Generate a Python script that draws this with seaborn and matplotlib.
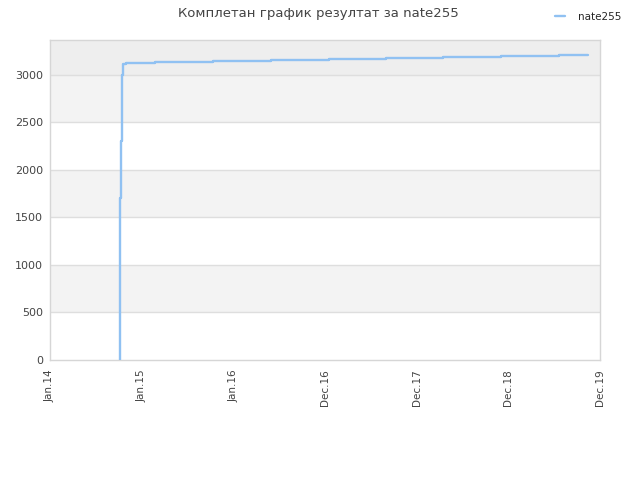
import matplotlib
matplotlib.use("Agg")
import matplotlib.pyplot as plt
import seaborn as sns
import numpy as np
import pandas as pd

# data (x = days since start of the axis)
days = [272, 272, 276, 281, 284, 287, 297, 410, 637, 864, 1091, 1313, 1536, 1763, 1990, 2103]
score = [0, 1705, 2305, 3000, 3100, 3115, 3129, 3140, 3150, 3161, 3171, 3182, 3193, 3204, 3214, 3214]
tick_labels = ["Jan.14", "Jan.15", "Jan.16", "Dec.16", "Dec.17", "Dec.18", "Dec.19"]
y_ticks = [0, 500, 1000, 1500, 2000, 2500, 3000]
player = "nate255"

df = pd.DataFrame({"day": days, "score": score})

sns.set_style("white")
plt.rcParams['font.family'] = ['DejaVu Sans']

fig = plt.figure(figsize=(6.4, 4.8), dpi=100)
ax = fig.add_axes([50 / 640, 120 / 480, 550 / 640, 320 / 480])

x_max = 2150
y_max = 3368

# alternating bands
for lo in [500, 1500, 2500]:
    ax.axhspan(lo, lo + 500, color="#f3f3f3", zorder=0, lw=0)
ax.axhspan(3000, y_max, color="#eeeeee", zorder=0, lw=0)
for yt in y_ticks[1:]:
    ax.axhline(yt, color="#dedede", lw=1, zorder=1)

sns.lineplot(data=df, x="day", y="score", ax=ax, estimator=None, sort=False,
             drawstyle="steps-post", color="#90c1f2", lw=1.7, label=player, zorder=3)

ax.set_xlim(0, x_max)
ax.set_ylim(0, y_max)
ax.set_xticks(np.linspace(0, x_max, 7))
ax.set_xticklabels(tick_labels, rotation=90, fontsize=7.5, color="#444444")
ax.set_yticks(y_ticks)
ax.set_yticklabels([str(v) for v in y_ticks], fontsize=8, color="#444444")
ax.tick_params(axis="y", length=0, pad=5)
ax.tick_params(axis="x", length=0, pad=7)
ax.set_xlabel("")
ax.set_ylabel("")
for s in ax.spines.values():
    s.set_color("#d6d6d6")
    s.set_linewidth(1)

handles, labels = ax.get_legend_handles_labels()
ax.get_legend().remove()
fig.legend(handles, labels, loc="upper right", bbox_to_anchor=(0.985, 0.995),
           frameon=False, fontsize=7.5, handlelength=1.0, handletextpad=1.2)

fig.suptitle("Комплетан график резултат за " + player, x=0.497, y=0.985,
             fontsize=9.5, color="#444444")

fig.savefig("out.png", dpi=100)
